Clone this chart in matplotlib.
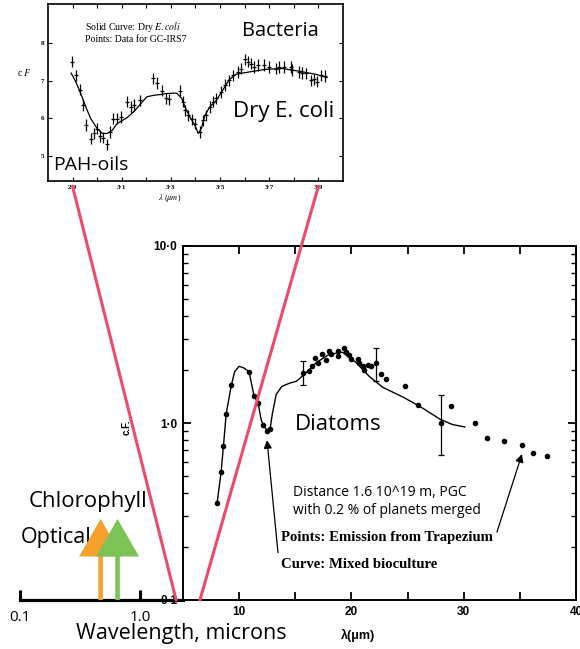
import matplotlib
matplotlib.use('Agg')
import matplotlib.pyplot as plt
from matplotlib.patches import ConnectionPatch
from matplotlib.ticker import LogLocator, NullFormatter

plt.rcParams['font.family'] = ['Open Sans', 'DejaVu Sans']
plt.rcParams['mathtext.fontset'] = 'stix'

# inset: Dry E. coli curve vs GC-IRS7 data
coli_wl = [2.894, 2.913, 2.933, 2.954, 2.974, 3.0, 3.021, 3.041, 3.061, 3.081, 3.122, 3.148,
           3.175, 3.202, 3.229, 3.256, 3.283, 3.323, 3.344, 3.357, 3.377, 3.397, 3.411, 3.424,
           3.438, 3.458, 3.485, 3.511, 3.538, 3.565, 3.619, 3.686, 3.753, 3.821, 3.888, 3.935]
coli_flux = [7.20, 6.97, 6.66, 6.30, 5.99, 5.73, 5.60, 5.60, 5.68, 5.86, 6.02, 6.17,
             6.37, 6.57, 6.61, 6.63, 6.66, 6.67, 6.53, 6.30, 6.04, 5.82, 5.60, 5.73,
             6.08, 6.30, 6.48, 6.75, 7.03, 7.17, 7.23, 7.30, 7.32, 7.25, 7.17, 7.08]
irs7_wl = [2.897, 2.913, 2.929, 2.944, 2.956, 2.974, 2.987, 2.998, 3.011, 3.025, 3.038, 3.054,
           3.065, 3.079, 3.095, 3.122, 3.138, 3.151, 3.175, 3.229, 3.243, 3.263, 3.280, 3.294,
           3.337, 3.348, 3.357, 3.370, 3.384, 3.397, 3.417, 3.431, 3.444, 3.458, 3.471, 3.485,
           3.505, 3.518, 3.538, 3.552, 3.572, 3.585, 3.603, 3.612, 3.626, 3.639, 3.656, 3.679,
           3.700, 3.727, 3.740, 3.760, 3.787, 3.794, 3.821, 3.834, 3.848, 3.868, 3.881, 3.894,
           3.912, 3.928]
irs7_flux = [7.50, 7.14, 6.76, 6.35, 5.82, 5.46, 5.60, 5.73, 5.53, 5.49, 5.31, 5.64,
             5.99, 5.99, 6.04, 6.44, 6.30, 6.35, 6.48, 7.06, 6.94, 6.73, 6.53, 6.50,
             6.73, 6.44, 6.21, 6.08, 5.97, 5.86, 5.64, 5.95, 6.08, 6.30, 6.44, 6.53,
             6.70, 6.88, 7.01, 7.14, 7.23, 7.32, 7.56, 7.50, 7.45, 7.36, 7.41, 7.41,
             7.36, 7.32, 7.36, 7.36, 7.36, 7.28, 7.23, 7.20, 7.19, 7.01, 7.03, 6.97,
             7.14, 7.12]
irs7_err = 0.15
inset_xticks = [2.9, 3.0, 3.1, 3.2, 3.3, 3.4, 3.5, 3.6, 3.7, 3.8, 3.9]
inset_xlabels = ['2·9', '', '3·1', '', '3·3', '', '3·5', '', '3·7', '', '3·9']
inset_yticks = [5, 6, 7, 8]

# main: mixed bioculture curve vs Trapezium emission
culture_wl = [8.04, 8.4, 8.6, 8.85, 9.3, 9.6, 10.0, 10.4, 10.88, 11.32, 11.7, 11.95, 12.15,
              12.5, 12.75, 12.95, 13.3, 13.8, 14.5, 15.1, 15.8, 16.9, 18.0, 19.2, 20.4, 21.6,
              22.8, 24.6, 26.1, 27.9, 29.0, 30.1]
culture_flux = [0.355, 0.53, 0.74, 1.13, 1.63, 1.95, 2.09, 2.05, 1.95, 1.43, 1.29, 1.05, 0.97,
                0.905, 0.92, 1.12, 1.45, 1.61, 1.68, 1.72, 1.88, 2.2, 2.44, 2.51, 2.2, 1.83,
                1.59, 1.40, 1.24, 1.05, 0.98, 0.95]
trap_wl = [8.04, 8.4, 8.6, 8.85, 9.3, 10.88, 11.32, 11.7, 12.15, 12.5, 12.75,
           15.71, 16.25, 16.49, 16.79, 17.0, 17.38, 17.74, 17.98, 18.19, 18.78, 18.78, 19.38,
           19.53, 19.82, 19.97, 20.56, 20.71, 21.0, 21.16, 21.46, 21.76, 22.2, 22.65, 23.04,
           24.73, 25.92, 28.0, 28.9, 30.98, 32.03, 33.57, 35.15, 36.19, 37.38]
trap_flux = [0.355, 0.53, 0.74, 1.13, 1.63, 1.95, 1.43, 1.29, 0.97, 0.905, 0.92,
             1.91, 1.96, 2.10, 2.34, 2.19, 2.44, 2.26, 2.55, 2.44, 2.55, 2.39, 2.67,
             2.52, 2.41, 2.31, 2.29, 2.17, 2.10, 2.0, 2.14, 2.10, 2.19, 1.88, 1.78,
             1.61, 1.27, 1.0, 1.24, 1.0, 0.82, 0.79, 0.75, 0.68, 0.65]
errbar_wl = [15.7, 22.2, 28.0]
errbar_flux = [1.91, 2.19, 1.0]
errbar_lo = [1.63, 1.73, 0.66]
errbar_hi = [2.23, 2.67, 1.44]

# wavelength scale markers
marker_names = ['Optical', 'Chlorophyll']
marker_wl = [0.47, 0.65]
marker_colors = ['#F5A12B', '#7DC254']

W, H = 580, 649
fig = plt.figure(figsize=(W / 100, H / 100), dpi=100)


def px(x, y):
    return x / W, 1 - y / H


pink = '#EA4C6E'

# ---- inset axes
axi = fig.add_axes([48 / W, 1 - 181 / H, 295 / W, 177 / H])
axi.plot(coli_wl, coli_flux, color='black', lw=0.9)
axi.errorbar(irs7_wl, irs7_flux, yerr=irs7_err, fmt='_', ms=3, mew=0.9,
             color='black', elinewidth=0.9, capsize=0)
axi.set_xlim(2.8, 4.0)
axi.set_ylim(4.34, 9.03)
axi.set_xticks(inset_xticks)
axi.set_xticklabels(inset_xlabels)
axi.set_yticks(inset_yticks)
axi.set_yticklabels([str(v) for v in inset_yticks])
axi.tick_params(direction='in', length=3, width=0.8, top=True, right=True,
                labelsize=5, pad=3)
for lab in axi.get_xticklabels() + axi.get_yticklabels():
    lab.set_family('Liberation Serif')
    lab.set_weight('bold')
for s in axi.spines.values():
    s.set_linewidth(1.2)

fig.text(*px(85, 27), r'Solid Curve: Dry $\mathit{E.coli}$', fontsize=7,
         family='Liberation Serif', va='center')
fig.text(*px(85, 39), 'Points: Data for GC-IRS7', fontsize=7,
         family='Liberation Serif', va='center')
fig.text(*px(17, 72), r'c $\mathit{F}$', fontsize=7, family='Liberation Serif', va='center')
fig.text(*px(170, 198), r'$\lambda$ ($\mu m$)', fontsize=6, ha='center', va='center')
fig.text(*px(242, 31), 'Bacteria', fontsize=14.5, va='center')
fig.text(*px(233, 112), 'Dry E. coli', fontsize=16, va='center')
fig.text(*px(53, 165), 'PAH-oils', fontsize=14, va='center')

# ---- main axes
ax = fig.add_axes([183 / W, 1 - 600 / H, 393 / W, 354 / H])
ax.set_yscale('log')
ax.plot(culture_wl, culture_flux, color='black', lw=1.0)
ax.plot(trap_wl, trap_flux, 'o', color='black', ms=3)
ax.errorbar(errbar_wl, errbar_flux,
            yerr=[[f - lo for f, lo in zip(errbar_flux, errbar_lo)],
                  [hi - f for f, hi in zip(errbar_flux, errbar_hi)]],
            fmt='none', ecolor='black', elinewidth=0.9, capsize=2.5, capthick=0.9)
ax.set_xlim(5, 40)
ax.set_ylim(0.1, 10)
ax.set_xticks([5, 10, 15, 20, 25, 30, 35, 40])
ax.set_xticklabels(['', '10', '', '20', '', '30', '', '40'])
ax.set_yticks([0.1, 1, 10])
ax.set_yticklabels(['0·1', '1·0', '10·0'])
ax.yaxis.set_minor_locator(LogLocator(base=10, subs=range(2, 10)))
ax.yaxis.set_minor_formatter(NullFormatter())
ax.tick_params(which='major', direction='in', length=6, width=1.3, top=True, right=True,
               labelsize=8.5, pad=4)
ax.tick_params(which='minor', direction='in', length=3.5, width=1.0, right=True)
for lab in ax.get_xticklabels() + ax.get_yticklabels():
    lab.set_family('Liberation Sans')
    lab.set_weight('bold')
for s in ax.spines.values():
    s.set_linewidth(1.4)

ax.annotate('', xy=(12.48, 0.80), xytext=(13.46, 0.185),
            arrowprops=dict(arrowstyle='-|>', color='black', lw=0.9,
                            mutation_scale=12, shrinkA=0, shrinkB=0))
ax.annotate('', xy=(35.19, 0.668), xytext=(32.96, 0.242),
            arrowprops=dict(arrowstyle='-|>', color='black', lw=0.9,
                            mutation_scale=12, shrinkA=0, shrinkB=0))

fig.text(*px(127, 427), 'c.F.', rotation=90, fontsize=7, weight='bold',
         family='Liberation Sans', ha='center', va='center')
fig.text(*px(358, 635), 'λ(μm)', fontsize=9, weight='bold',
         family='Liberation Sans', ha='center', va='center')
fig.text(*px(295, 425), 'Diatoms', fontsize=16, va='center')
fig.text(*px(293, 493), 'Distance 1.6 10^19 m, PGC', fontsize=10, va='center')
fig.text(*px(293, 511), 'with 0.2 % of planets merged', fontsize=10, va='center')
fig.text(*px(281, 538), 'Points: Emission from Trapezium', fontsize=10.6,
         family='Liberation Serif', weight='bold', va='center')
fig.text(*px(281, 564), 'Curve: Mixed bioculture', fontsize=10.6,
         family='Liberation Serif', weight='bold', va='center')

# ---- wavelength scale
axw = fig.add_axes([20 / W, 1 - 600 / H, 163 / W, 120 / H])
axw.set_facecolor('none')
axw.set_xscale('log')
axw.set_xlim(0.1, 10 ** (163 / 120 - 1))
axw.set_ylim(0, 1)
for k in ['left', 'right', 'top']:
    axw.spines[k].set_visible(False)
axw.spines['bottom'].set_linewidth(2.3)
axw.set_yticks([])
axw.set_xticks([0.1, 1.0])
axw.set_xticklabels(['0.1', '1.0'])
axw.xaxis.set_minor_locator(plt.NullLocator())
axw.tick_params(axis='x', direction='in', length=7, width=2.2, labelsize=11, pad=7)

axw.text(*px(29, 501), 'Chlorophyll', transform=fig.transFigure, fontsize=16,
         va='center', zorder=1)
axw.text(*px(21, 538), 'Optical', transform=fig.transFigure, fontsize=15.5,
         va='center', zorder=1)
for wl, c in zip(marker_wl, marker_colors):
    axw.annotate('', xy=(wl, 0.675), xytext=(wl, 0.0),
                 arrowprops=dict(arrowstyle='simple,head_length=2.7,head_width=3.1,tail_width=0.33',
                                 color=c, lw=0, mutation_scale=10, shrinkA=0, shrinkB=0),
                 zorder=3)

fig.text(*px(181, 634), 'Wavelength, microns', fontsize=15.5, ha='center', va='center')

# ---- zoom connector lines
for wa, wb in [(2.9, 2.0), (3.9, 3.16)]:
    con = ConnectionPatch(xyA=(wa, 4.2), coordsA=axi.transData,
                          xyB=(wb, 0), coordsB=axw.transData,
                          color=pink, lw=2.2, zorder=5)
    fig.add_artist(con)

fig.savefig('out.png', dpi=100)
